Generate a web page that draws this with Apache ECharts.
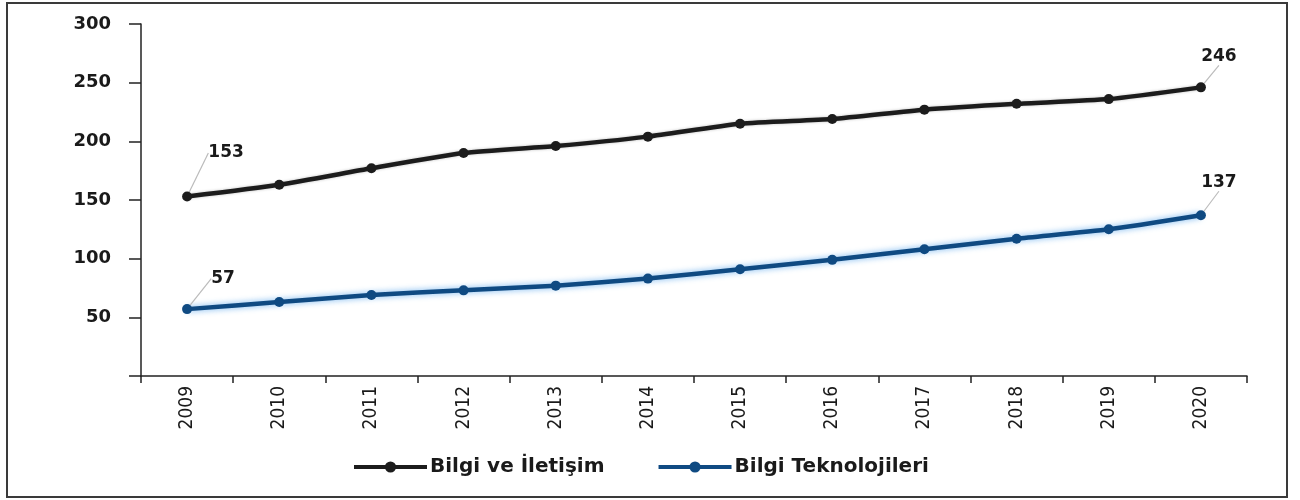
<!DOCTYPE html>
<html>
<head>
<meta charset="utf-8">
<script src="https://cdn.jsdelivr.net/npm/echarts@6/dist/echarts.min.js"></script>
<style>html,body{margin:0;padding:0;background:#fff;}#c{width:1300px;height:500px;}</style>
</head>
<body>
<div id="c"></div>
<script>
var years = ['2009','2010','2011','2012','2013','2014','2015','2016','2017','2018','2019','2020'];
var bilgiIletisim = [153, 163, 177, 190, 196, 204, 215, 219, 227, 232, 236, 246];
var bilgiTeknolojileri = [57, 63, 69, 73, 77, 83, 91, 99, 108, 117, 125, 137];
var seriesNames = ['Bilgi ve İletişim', 'Bilgi Teknolojileri'];
var labeledIdx = [0, 11];

var chart = echarts.init(document.getElementById('c'));

function mkData(arr) {
  return arr.map(function (v, i) {
    if (labeledIdx.indexOf(i) >= 0) {
      return { value: v, label: { show: true } };
    }
    return v;
  });
}

var labelStyle = {
  show: false,
  position: 'top',
  fontFamily: 'DejaVu Sans',
  fontWeight: 'bold',
  fontSize: 17,
  color: '#1a1a1a'
};

chart.setOption({
  animation: false,
  backgroundColor: '#fff',
  graphic: [{
    type: 'rect',
    shape: { x: 7, y: 3, width: 1280, height: 494 },
    style: { fill: 'none', stroke: '#3a3a3a', lineWidth: 2 },
    z: 100
  }],
  grid: { left: 141, right: 53, top: 24, bottom: 124 },
  legend: {
    data: seriesNames,
    top: 452,
    left: 347,
    itemWidth: 73,
    itemHeight: 14,
    itemGap: 52,
    lineStyle: { width: 4 },
    textStyle: { fontFamily: 'DejaVu Sans', fontWeight: 'bold', fontSize: 20, color: '#1a1a1a', padding: [0, 0, 0, -2] }
  },
  xAxis: {
    type: 'category',
    data: years,
    boundaryGap: true,
    axisLine: { lineStyle: { color: '#222', width: 1.5 } },
    axisTick: { show: true, length: 7, lineStyle: { color: '#222', width: 1.5 } },
    axisLabel: { rotate: 90, margin: 10, fontFamily: 'DejaVu Sans Condensed, Liberation Sans', fontSize: 19, color: '#1a1a1a' }
  },
  yAxis: {
    type: 'value',
    min: 0,
    max: 300,
    interval: 50,
    splitLine: { show: false },
    axisLine: { show: true, lineStyle: { color: '#222', width: 1.5 } },
    axisTick: { show: true, length: 12, lineStyle: { color: '#222', width: 1.5 } },
    axisLabel: {
      margin: 30,
      fontFamily: 'DejaVu Sans',
      fontWeight: 'bold',
      fontSize: 18,
      color: '#1a1a1a',
      formatter: function (v) { return v === 0 ? '' : String(v); }
    }
  },
  series: [
    {
      name: seriesNames[0],
      type: 'line',
      data: mkData(bilgiIletisim),
      smooth: 0.2,
      symbol: 'circle',
      symbolSize: 10,
      itemStyle: { color: '#1c1c1c' },
      lineStyle: { color: '#1c1c1c', width: 4.5, shadowColor: 'rgba(0,0,0,0.25)', shadowBlur: 3 },
      label: labelStyle,
      labelLine: { show: true, lineStyle: { color: '#bbb', width: 1.2 } },
      labelLayout: function (p) {
        if (p.dataIndex === 0) return { dx: 39, dy: -25 };
        return { dx: 18, dy: -12 };
      }
    },
    {
      name: seriesNames[1],
      type: 'line',
      data: mkData(bilgiTeknolojileri),
      smooth: 0.2,
      symbol: 'circle',
      symbolSize: 10,
      itemStyle: { color: '#0f4a82' },
      lineStyle: { color: '#0f4a82', width: 4.5, shadowColor: 'rgba(80,160,235,0.8)', shadowBlur: 6 },
      label: labelStyle,
      labelLine: { show: true, lineStyle: { color: '#bbb', width: 1.2 } },
      labelLayout: function (p) {
        if (p.dataIndex === 0) return { dx: 36, dy: -12 };
        return { dx: 18, dy: -14 };
      }
    }
  ]
});
</script>
</body>
</html>
